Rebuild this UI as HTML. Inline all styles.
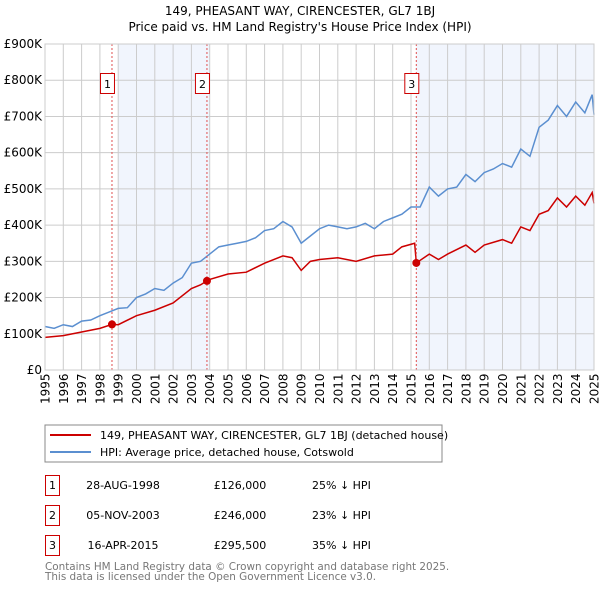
<!DOCTYPE html>
<html><head><meta charset="utf-8"><style>
body{margin:0;background:#fff;font-family:"DejaVu Sans","Liberation Sans",sans-serif;}
svg text{font-family:"DejaVu Sans","Liberation Sans",sans-serif;}
</style></head><body>
<svg id="c" width="600" height="590" viewBox="0 0 600 590" xmlns="http://www.w3.org/2000/svg">
<text x="300" y="15" text-anchor="middle" font-size="12">149, PHEASANT WAY, CIRENCESTER, GL7 1BJ</text>
<text x="300" y="31" text-anchor="middle" font-size="12">Price paid vs. HM Land Registry's House Price Index (HPI)</text>
<g id="plot"></g>
<g>
<rect x="45" y="425" width="397" height="37" fill="#fff" stroke="#888"/>
<line x1="50" y1="435" x2="91" y2="435" stroke="#cc0000" stroke-width="2"/>
<text x="100" y="439" font-size="11">149, PHEASANT WAY, CIRENCESTER, GL7 1BJ (detached house)</text>
<line x1="50" y1="452" x2="91" y2="452" stroke="#5b8fd0" stroke-width="2"/>
<text x="100" y="456" font-size="11">HPI: Average price, detached house, Cotswold</text>
</g>
<g font-size="11">
<rect x="45.5" y="475.5" width="14" height="20" fill="none" stroke="#cc0000"/>
<text x="52.5" y="489" text-anchor="middle">1</text>
<text x="123" y="489" text-anchor="middle">28-AUG-1998</text>
<text x="240" y="489" text-anchor="middle">£126,000</text>
<text x="312" y="489">25% ↓ HPI</text>
<rect x="45.5" y="505.5" width="14" height="20" fill="none" stroke="#cc0000"/>
<text x="52.5" y="519" text-anchor="middle">2</text>
<text x="123" y="519" text-anchor="middle">05-NOV-2003</text>
<text x="240" y="519" text-anchor="middle">£246,000</text>
<text x="312" y="519">23% ↓ HPI</text>
<rect x="45.5" y="535.5" width="14" height="20" fill="none" stroke="#cc0000"/>
<text x="52.5" y="549" text-anchor="middle">3</text>
<text x="123" y="549" text-anchor="middle">16-APR-2015</text>
<text x="240" y="549" text-anchor="middle">£295,500</text>
<text x="312" y="549">35% ↓ HPI</text>
</g>
<text x="45" y="570" font-size="10.4" fill="#777">Contains HM Land Registry data © Crown copyright and database right 2025.</text>
<text x="45" y="580" font-size="10.4" fill="#777">This data is licensed under the Open Government Licence v3.0.</text>
</svg>
<script>
const yTicks=[0,100,200,300,400,500,600,700,800,900];
const yTickLabels=["£0","£100K","£200K","£300K","£400K","£500K","£600K","£700K","£800K","£900K"];
const years=[1995,1996,1997,1998,1999,2000,2001,2002,2003,2004,2005,2006,2007,2008,2009,2010,2011,2012,2013,2014,2015,2016,2017,2018,2019,2020,2021,2022,2023,2024,2025];
const hpiT=[1995,1995.5,1996,1996.5,1997,1997.5,1998,1998.5,1999,1999.5,2000,2000.5,2001,2001.5,2002,2002.5,2003,2003.5,2004,2004.5,2005,2005.5,2006,2006.5,2007,2007.5,2008,2008.5,2009,2009.5,2010,2010.5,2011,2011.5,2012,2012.5,2013,2013.5,2014,2014.5,2015,2015.5,2016,2016.5,2017,2017.5,2018,2018.5,2019,2019.5,2020,2020.5,2021,2021.5,2022,2022.5,2023,2023.5,2024,2024.5,2024.9,2025];
const hpiV=[120,115,125,120,135,138,150,160,170,172,200,210,225,220,240,255,295,300,320,340,345,350,355,365,385,390,410,395,350,370,390,400,395,390,395,405,390,410,420,430,450,450,505,480,500,505,540,520,545,555,570,560,610,590,670,690,730,700,740,710,760,705];
const propT=[1995,1996,1997,1998,1998.66,1999,2000,2001,2002,2003,2003.5,2003.85,2004,2005,2006,2007,2008,2008.5,2009,2009.5,2010,2011,2012,2013,2014,2014.5,2015.2,2015.29,2016,2016.5,2017,2018,2018.5,2019,2020,2020.5,2021,2021.5,2022,2022.5,2023,2023.5,2024,2024.5,2024.9,2025];
const propV=[90,95,105,115,126,125,150,165,185,225,235,246,250,265,270,295,315,310,275,300,305,310,300,315,320,340,350,295.5,320,305,320,345,325,345,360,350,395,385,430,440,475,450,480,455,490,460];
const saleT=[1998.66,2003.85,2015.29];
const saleV=[126,246,295.5];
const saleLabels=["1","2","3"];
const shadeStart=[1999,2015.29];
const shadeEnd=[2004,2025];

const NS="http://www.w3.org/2000/svg";
const X0=45,X1=594,Y0=370,Y1=44;
const xs=t=>X0+(t-1995)/30*(X1-X0);
const ys=v=>Y0-v/900*(Y0-Y1);
const g=document.getElementById('plot');
function mk(tag,attrs){const e=document.createElementNS(NS,tag);for(const k in attrs)e.setAttribute(k,attrs[k]);g.appendChild(e);return e;}
for(let i=0;i<shadeStart.length;i++){
 const r=mk('rect',{x:xs(shadeStart[i]),y:Y1,width:xs(shadeEnd[i])-xs(shadeStart[i]),height:Y0-Y1,fill:'#eef3fc',opacity:0.8});
 
 
}
years.forEach(y=>{
 const l=mk('line',{x1:xs(y),x2:xs(y),y1:Y1,y2:Y0,stroke:'#ccc','stroke-width':1});
 
 
 const t=mk('text',{transform:`translate(${xs(y)+4.5},${Y0+34}) rotate(-90)`,'font-size':12});
 t.textContent=y;
 
 
});
yTicks.forEach((v,i)=>{
 const l=mk('line',{x1:X0,x2:X1,y1:ys(v),y2:ys(v),stroke:'#ccc','stroke-width':1});
 
 
 const t=mk('text',{x:X0-3,y:ys(v)+4,'text-anchor':'end','font-size':12});
 t.textContent=yTickLabels[i];
 
 
});
const hp=mk('polyline',{points:hpiT.map((t,i)=>xs(t)+','+ys(hpiV[i])).join(' '),fill:'none',stroke:'#5b8fd0','stroke-width':1.5});


const pp=mk('polyline',{points:propT.map((t,i)=>xs(t)+','+ys(propV[i])).join(' '),fill:'none',stroke:'#cc0000','stroke-width':1.5});


saleT.forEach((t,i)=>{
 const l=mk('line',{x1:xs(t),x2:xs(t),y1:Y1,y2:Y0,stroke:'#e05050','stroke-dasharray':'2,2','stroke-width':1});
 
 
 const p=mk('circle',{cx:xs(t),cy:ys(saleV[i]),r:4,fill:'#cc0000'});
 
 
 const b=mk('rect',{x:xs(t)-11.5,y:73.5,width:14,height:20,fill:'#fff',stroke:'#cc0000'});
 
 
 const tx=mk('text',{x:xs(t)-4.5,y:88,'text-anchor':'middle','font-size':11});
 tx.textContent=saleLabels[i];
 
 
});
const fr=mk('rect',{x:X0,y:Y1,width:X1-X0,height:Y0-Y1,fill:'none',stroke:'#ccc'});


</script>
</body></html>
